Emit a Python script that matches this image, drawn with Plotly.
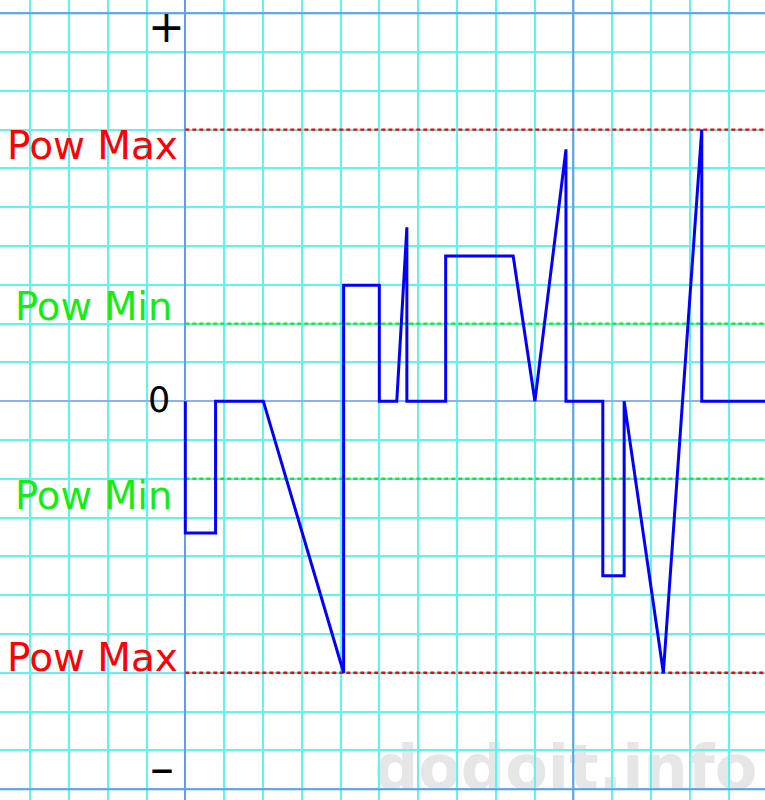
import plotly.graph_objects as go

# ---- data (grid units: 1 unit = one grid cell) ----
signal_x = [0, 0, 0.78, 0.78, 2.01, 4.08, 4.08, 5.0, 5.0, 5.45, 5.71, 5.71, 6.71, 6.71,
            8.45, 9.01, 9.81, 9.81, 10.76, 10.76, 11.31, 11.31, 12.32, 13.31, 13.31, 16]
signal_y = [0, -3.4, -3.4, 0, 0, -7, 2.99, 2.99, 0, 0, 4.48, 0, 0, 3.74,
            3.74, 0, 6.49, 0, 0, -4.5, -4.5, 0, -7, 7, 0, 0]

pow_max_levels = [7, -7]
pow_min_levels = [2, -2]
level_labels_max = ["Pow Max", "Pow Max"]
level_labels_min = ["Pow Min", "Pow Min"]
axis_marks = ["+", "0", "–"]
watermark = "dodoit.info"

X_RANGE = [-4.776, 14.94]
Y_RANGE = [-10.28, 10.34]

fig = go.Figure()

# reference lines
for lv in pow_max_levels:
    fig.add_trace(go.Scatter(x=[0, X_RANGE[1]], y=[lv, lv], mode="lines",
                             line=dict(color="#ff0000", width=2.3, dash="4px,3px"),
                             hoverinfo="skip", showlegend=False))
for lv in pow_min_levels:
    fig.add_trace(go.Scatter(x=[0, X_RANGE[1]], y=[lv, lv], mode="lines",
                             line=dict(color="#11ee11", width=2.3, dash="4px,3px"),
                             hoverinfo="skip", showlegend=False))

# signal
fig.add_trace(go.Scatter(x=signal_x, y=signal_y, mode="lines",
                         line=dict(color="#0000ff", width=3),
                         hoverinfo="skip", showlegend=False))

blue = "#6a98ec"
for yv in [10, -10]:
    fig.add_shape(type="line", x0=X_RANGE[0], x1=X_RANGE[1], y0=yv, y1=yv,
                  line=dict(color=blue, width=2), layer="between")
fig.add_shape(type="line", x0=10, x1=10, y0=Y_RANGE[0], y1=Y_RANGE[1],
              line=dict(color=blue, width=2), layer="between")

# watermark (below grid)
fig.add_shape(type="rect", x0=7.0, x1=12.6, y0=-10.2, y1=-8.5,
              line=dict(width=0), fillcolor="rgba(0,0,0,0)", layer="below",
              label=dict(text="<b>" + watermark + "</b>", textposition="middle center",
                         font=dict(family="DejaVu Sans", size=62, color="#e6e6e6")))

# labels
fig.add_annotation(x=-4.64, y=6.6, text=level_labels_max[0], showarrow=False,
                   xanchor="left", yanchor="middle",
                   font=dict(family="DejaVu Sans", size=39, color="#ff0000"))
fig.add_annotation(x=-4.64, y=-6.61, text=level_labels_max[1], showarrow=False,
                   xanchor="left", yanchor="middle",
                   font=dict(family="DejaVu Sans", size=39, color="#ff0000"))
fig.add_annotation(x=-4.45, y=2.44, text=level_labels_min[0], showarrow=False,
                   xanchor="left", yanchor="middle",
                   font=dict(family="DejaVu Sans", size=38.5, color="#11ee11"))
fig.add_annotation(x=-4.45, y=-2.42, text=level_labels_min[1], showarrow=False,
                   xanchor="left", yanchor="middle",
                   font=dict(family="DejaVu Sans", size=38.5, color="#11ee11"))

fig.add_annotation(x=-0.495, y=9.65, text=axis_marks[0], showarrow=False,
                   xanchor="center", yanchor="middle",
                   font=dict(family="DejaVu Sans", size=44, color="#000000"))
fig.add_annotation(x=-0.69, y=0.04, text=axis_marks[1], showarrow=False,
                   xanchor="center", yanchor="middle",
                   font=dict(family="DejaVu Sans", size=35, color="#000000"))
fig.add_annotation(x=-0.6, y=-9.45, text=axis_marks[2], showarrow=False,
                   xanchor="center", yanchor="middle",
                   font=dict(family="DejaVu Sans", size=48, color="#000000"))

grid = "#5ef4f4"
fig.update_layout(
    width=765, height=800,
    margin=dict(l=0, r=0, t=0, b=0),
    paper_bgcolor="#ffffff", plot_bgcolor="#ffffff",
    xaxis=dict(range=X_RANGE, tick0=0, dtick=1, showgrid=True, gridcolor=grid, gridwidth=1.5,
               zeroline=True, zerolinecolor=blue, zerolinewidth=2,
               showticklabels=False, ticks="", showline=False, fixedrange=True),
    yaxis=dict(range=Y_RANGE, tick0=0, dtick=1, showgrid=True, gridcolor=grid, gridwidth=1.5,
               zeroline=True, zerolinecolor="#8cb0f2", zerolinewidth=2,
               showticklabels=False, ticks="", showline=False, fixedrange=True),
)

fig.write_html("out.html",
               config={"displayModeBar": False},
               post_script="document.body.style.margin='0';document.body.style.overflow='hidden';")
